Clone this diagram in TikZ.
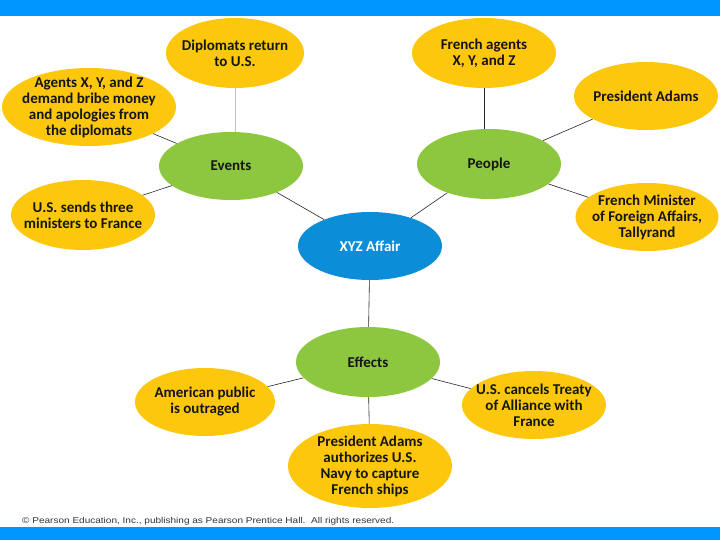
\documentclass[tikz,border=0pt]{standalone}
\usepackage{fontspec}
\setmainfont{Carlito}
\newfontfamily\copyfont{Liberation Sans}
\usetikzlibrary{shapes.geometric}
\definecolor{topblue}{HTML}{0096FF}
\definecolor{yel}{HTML}{FCC70C}
\definecolor{grn}{HTML}{8DC63F}
\definecolor{xyzblue}{HTML}{0C8DD8}
\definecolor{txt}{HTML}{151515}
\tikzset{
  bub/.style={ellipse, inner sep=-30pt, align=center, font=\fontsize{15}{16}\selectfont\bfseries, text=txt},
  leaf/.style={bub, fill=yel},
  hub/.style={bub, fill=grn},
  link/.style={draw=black!85, line width=0.6pt},
}
\begin{document}
\begin{tikzpicture}[x=1pt,y=-1pt]
\useasboundingbox (0,0) rectangle (720,540);
\fill[white] (0,0) rectangle (720,540);
\fill[topblue] (0,0) rectangle (720,16.5);
\fill[topblue] (0,527) rectangle (720,540);

\node[leaf, minimum width=138, minimum height=70] (dip) at (235,53) {Diplomats return\\to U.S.};
\node[leaf, minimum width=144, minimum height=70] (fa) at (484,53) {French agents\\X, Y, and Z};
\node[leaf, minimum width=174, minimum height=78] (ag) at (89,107) {Agents X, Y, and Z\\demand bribe money\\and apologies from\\the diplomats};
\node[leaf, minimum width=144, minimum height=68] (pa) at (646,96) {President Adams};
\node[hub, minimum width=144, minimum height=68] (ev) at (231,166) {Events};
\node[hub, minimum width=144, minimum height=70] (pe) at (489,164) {People};
\node[leaf, minimum width=144, minimum height=70] (us) at (83,215) {U.S. sends three\\ministers to France};
\node[leaf, minimum width=143, minimum height=68] (fm) at (647,217) {French Minister\\of Foreign Affairs,\\Tallyrand};
\node[bub, fill=xyzblue, text=white, minimum width=144, minimum height=68] (xyz) at (370,246) {XYZ Affair};
\node[hub, minimum width=144, minimum height=70] (ef) at (368,362) {Effects};
\node[leaf, minimum width=140, minimum height=68] (am) at (205,402) {American public\\is outraged};
\node[leaf, minimum width=144, minimum height=68] (ca) at (534,405) {U.S. cancels Treaty\\of Alliance with\\France};
\node[leaf, minimum width=164, minimum height=84] (au) at (370,466) {President Adams\\authorizes U.S.\\Navy to capture\\French ships};

\draw[draw=black!25, line width=1pt] (dip) -- (dip|-ev.north);
\draw[link] (ag) -- (ev);
\draw[link] (us) -- (ev);
\draw[link] (ev) -- (xyz);
\draw[link] (pe) -- (xyz);
\draw[link] (fa) -- (fa|-pe.north);
\draw[link] (pa) -- (pe);
\draw[link] (fm) -- (pe);
\draw[link] (xyz) -- (ef);
\draw[link] (am) -- (ef);
\draw[link] (ca) -- (ef);
\draw[link] (au) -- (ef);

\node[anchor=west, inner sep=0pt, font=\copyfont\fontsize{8.5}{9}\selectfont, text=black!80] (cp) at (22,521) {\scalebox{1.18}[1]{\textcopyright{} Pearson Education, Inc., publishing as Pearson Prentice Hall.\ \ All rights reserved.}};
\end{tikzpicture}
\end{document}
